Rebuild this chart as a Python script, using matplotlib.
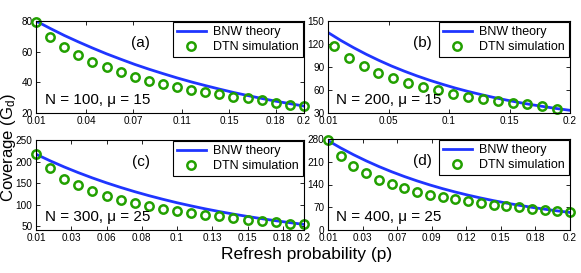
import matplotlib
matplotlib.use("Agg")
import matplotlib.pyplot as plt
import numpy as np

plt.rcParams["font.family"] = ["Liberation Sans", "DejaVu Sans"]
plt.rcParams["mathtext.fontset"] = "custom"
plt.rcParams["mathtext.rm"] = "Liberation Sans"
plt.rcParams["mathtext.it"] = "Liberation Sans:italic"

# refresh probability grid (theory curves and most simulation points)
p_grid = [0.01, 0.02, 0.03, 0.04, 0.05, 0.06, 0.07, 0.08, 0.09, 0.10,
          0.11, 0.12, 0.13, 0.14, 0.15, 0.16, 0.17, 0.18, 0.19, 0.20]

# (a) N = 100, mu = 15
theory_a = [80.0, 75.2, 70.6, 66.4, 62.4, 58.6, 55.1, 51.7, 48.6, 45.7,
            42.9, 40.3, 37.9, 35.6, 33.4, 31.4, 29.5, 27.7, 26.1, 24.5]
sim_a = [79.1, 69.6, 63.0, 57.6, 53.2, 49.8, 46.8, 43.5, 41.1, 39.0,
         37.0, 35.3, 33.8, 32.3, 30.6, 29.5, 28.2, 26.7, 25.4, 24.6]

# (b) N = 200, mu = 15
theory_b = [135.0, 124.7, 115.3, 106.6, 98.6, 91.2, 84.5, 78.3, 72.6, 67.4,
            62.5, 58.1, 54.1, 50.3, 46.9, 43.7, 40.8, 38.2, 35.7, 33.5]
p_sim_b = [0.0145, 0.0262, 0.0379, 0.0496, 0.0613, 0.0730, 0.0847, 0.0964,
           0.1081, 0.1198, 0.1315, 0.1432, 0.1549, 0.1666, 0.1783, 0.1900]
sim_b = [117.6, 101.4, 90.9, 82.1, 75.1, 69.4, 64.1, 59.8,
         55.4, 51.2, 47.8, 45.5, 43.0, 41.2, 38.8, 35.8]

# (c) N = 300, mu = 25
theory_c = [217.0, 201.7, 187.4, 174.2, 161.9, 150.5, 139.9, 130.0, 120.8, 112.3,
            104.3, 97.0, 90.1, 83.8, 77.9, 72.4, 67.3, 62.5, 58.1, 54.0]
sim_c = [217.8, 184.1, 159.8, 144.9, 130.8, 120.6, 111.2, 104.1, 97.1, 90.8,
         85.8, 81.0, 76.7, 72.7, 68.8, 65.3, 61.8, 59.0, 56.0, 54.0]

# (d) N = 400, mu = 25
theory_d = [275.0, 252.4, 231.7, 212.7, 195.2, 179.2, 164.5, 151.0, 138.6, 127.2,
            116.8, 107.2, 98.4, 90.3, 82.9, 76.1, 69.8, 64.1, 58.8, 54.0]
sim_d = [277.9, 228.5, 195.6, 174.0, 154.4, 142.1, 128.7, 117.4, 109.1, 101.9,
         95.8, 88.6, 84.4, 78.2, 73.1, 70.0, 65.9, 61.8, 58.7, 55.6]

panels = [
    dict(tag="(a)", note="N = 100, μ = 15", p_sim=p_grid, sim=sim_a, theory=theory_a,
         ylim=(20, 80), yticks=[20, 40, 60, 80],
         xticks=[0.01, 0.0455, 0.0788, 0.1135, 0.1468, 0.180, 0.2],
         xlabels=["0.01", "0.04", "0.07", "0.11", "0.15", "0.18", "0.2"]),
    dict(tag="(b)", note="N = 200, μ = 15", p_sim=p_sim_b, sim=sim_b, theory=theory_b,
         ylim=(30, 150), yticks=[30, 60, 90, 120, 150],
         xticks=[0.01, 0.0575, 0.105, 0.1525, 0.2],
         xlabels=["0.01", "0.05", "0.1", "0.15", "0.2"]),
    dict(tag="(c)", note="N = 300, μ = 25", p_sim=p_grid, sim=sim_c, theory=theory_c,
         ylim=(41, 250), yticks=[50, 100, 150, 200, 250],
         xticks=[0.01, 0.035, 0.06, 0.085, 0.11, 0.135, 0.16, 0.185, 0.2],
         xlabels=["0.01", "0.03", "0.06", "0.08", "0.1", "0.13", "0.15", "0.18", "0.2"]),
    dict(tag="(d)", note="N = 400, μ = 25", p_sim=p_grid, sim=sim_d, theory=theory_d,
         ylim=(0, 280), yticks=[0, 70, 140, 210, 280],
         xticks=[0.01, 0.0371, 0.0643, 0.0914, 0.1186, 0.1457, 0.1729, 0.2],
         xlabels=["0.01", "0.03", "0.07", "0.09", "0.12", "0.15", "0.18", "0.2"]),
]

W, H = 581, 273
# axes boxes in pixels: left, top, right, bottom
boxes = [(36, 21, 304, 113), (328, 21, 570, 113),
         (36, 140, 304, 230), (328, 139, 570, 230)]

fig = plt.figure(figsize=(W / 100, H / 100), dpi=100)

for spec, (x0, y0, x1, y1) in zip(panels, boxes):
    ax = fig.add_axes([x0 / W, 1 - y1 / H, (x1 - x0) / W, (y1 - y0) / H])
    ax.plot(p_grid, spec["theory"], color="#1f35ff", lw=2.0, label="BNW theory")
    ax.plot(spec["p_sim"], spec["sim"], "o", mfc="none", mec="#22a000", mew=1.8,
            ms=6, label="DTN simulation", clip_on=False)
    ax.set_xlim(0.01, 0.2)
    ax.set_ylim(*spec["ylim"])
    ax.set_yticks(spec["yticks"])
    ax.set_xticks(spec["xticks"])
    ax.set_xticklabels(spec["xlabels"])
    ax.tick_params(direction="in", length=3, width=0.6, labelsize=7.2,
                   top=True, right=True, pad=2.5)
    for s in ax.spines.values():
        s.set_linewidth(0.8)
    ax.text(0.39, 0.76, spec["tag"], transform=ax.transAxes, fontsize=11,
            ha="center", va="center")
    ax.text(0.035, 0.14, spec["note"], transform=ax.transAxes, fontsize=11,
            ha="left", va="center")
    leg = ax.legend(loc="upper right", fontsize=9, frameon=True, fancybox=False,
                    edgecolor="black", framealpha=1, borderaxespad=0.1,
                    handlelength=2.3, numpoints=1, borderpad=0.3,
                    labelspacing=0.25, handletextpad=0.6)
    leg.get_frame().set_linewidth(0.8)

fig.text(0.014, 0.46, "Coverage (G$_\\mathrm{d}$)", rotation=90, fontsize=12,
         ha="center", va="center")
fig.text(0.527, 0.066, "Refresh probability (p)", fontsize=12.5,
         ha="center", va="center")

fig.savefig("out.png", dpi=100)
